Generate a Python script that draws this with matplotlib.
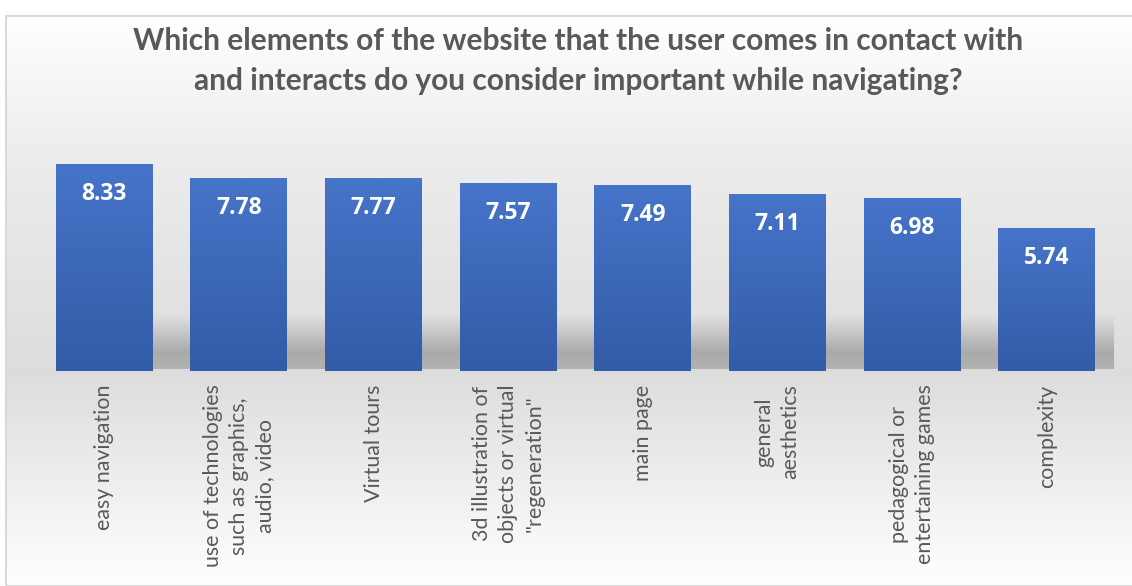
import numpy as np
import matplotlib.pyplot as plt
from matplotlib.colors import LinearSegmentedColormap
from matplotlib.patches import Rectangle

categories = [
    "easy navigation",
    "use of technologies\nsuch as graphics,\naudio, video",
    "Virtual tours",
    "3d illustration of\nobjects or virtual\n\"regeneration\"",
    "main page",
    "general\naesthetics",
    "pedagogical or\nentertaining games",
    "complexity",
]
values = [8.33, 7.78, 7.77, 7.57, 7.49, 7.11, 6.98, 5.74]
title = ("Which elements of the website that the user comes in contact with\n"
         "and interacts do you consider important while navigating?")

W, H = 1132, 586
fig = plt.figure(figsize=(W / 100, H / 100), dpi=100)
fig.patch.set_facecolor("white")

# chart-area background gradient (white -> grey -> white)
bg = fig.add_axes([6 / W, 0, 1 - 6 / W, 1 - 16 / H], zorder=-2)
bg.set_axis_off()
ys = np.array([0, 135, 355, 570])
vals = np.array([1.0, 0.93, 0.865, 1.0])
grad = np.interp(np.arange(570), ys, vals)[:, None]
bg.imshow(np.repeat(grad[:, :, None], 3, axis=2) * np.ones((1, 2, 3)),
          aspect="auto", extent=(0, 1, 0, 1), interpolation="bilinear")
bg.add_patch(Rectangle((0, 0), 1.2, 1.0, transform=bg.transAxes, fill=False,
                       edgecolor="#d9d9d9", linewidth=1.5, clip_on=False))

ax = fig.add_axes([37 / W, 1 - 370.7 / H, 1077 / W, (370.7 - 122.7) / H])
ax.set_facecolor("none")
x = np.arange(len(values))
ax.set_xlim(-0.5, len(values) - 0.5)
ax.set_ylim(0, 10)

# soft shadow band behind the bars (dark at the bottom, fading upwards)
t = np.linspace(0, 1, 80)
alpha = np.interp(t, [0, 0.3, 1], [0.45, 0.55, 0.0]) ** 1.0
shade_rgba = np.zeros((80, 2, 4))
shade_rgba[..., :3] = 0.5
shade_rgba[..., 3] = alpha[:, None]
ax.imshow(shade_rgba, aspect="auto", origin="lower", extent=(-0.2, 7.55, 0.05, 2.2),
          interpolation="bilinear", zorder=1)

bars = ax.bar(x, values, width=0.72, color="#3d68b8", zorder=2)
cmap = LinearSegmentedColormap.from_list("bar", ["#335ca7", "#4674c9"])
for b in bars:
    im = ax.imshow(np.linspace(0, 1, 100)[:, None], cmap=cmap, aspect="auto",
                   origin="lower", extent=(b.get_x(), b.get_x() + b.get_width(),
                                           0, b.get_height()), zorder=3)
    im.set_clip_path(b)
    ax.annotate(f"{b.get_height():.2f}", (b.get_x() + b.get_width() / 2, b.get_height()),
                xytext=(0, -30), textcoords="offset pixels", ha="center", va="center",
                color="white", fontsize=16.5, fontweight="bold", family="Open Sans", zorder=4)

ax.set_yticks([])
ax.set_xticks(x)
ax.set_xticklabels(categories, rotation=90, ha="center", va="top", multialignment="center",
                   fontsize=15.4, color="#595959", family="Lato", linespacing=1.4)
ax.tick_params(axis="x", length=0, pad=10)
for s in ax.spines.values():
    s.set_visible(False)

fig.text(0.5 * (135 + 1022) / W, 1 - 61 / H, title, ha="center", va="center",
         fontsize=21.5, fontweight="bold", color="#595959", family="Lato", linespacing=1.5)

fig.savefig("out.png", dpi=100, facecolor="white")
